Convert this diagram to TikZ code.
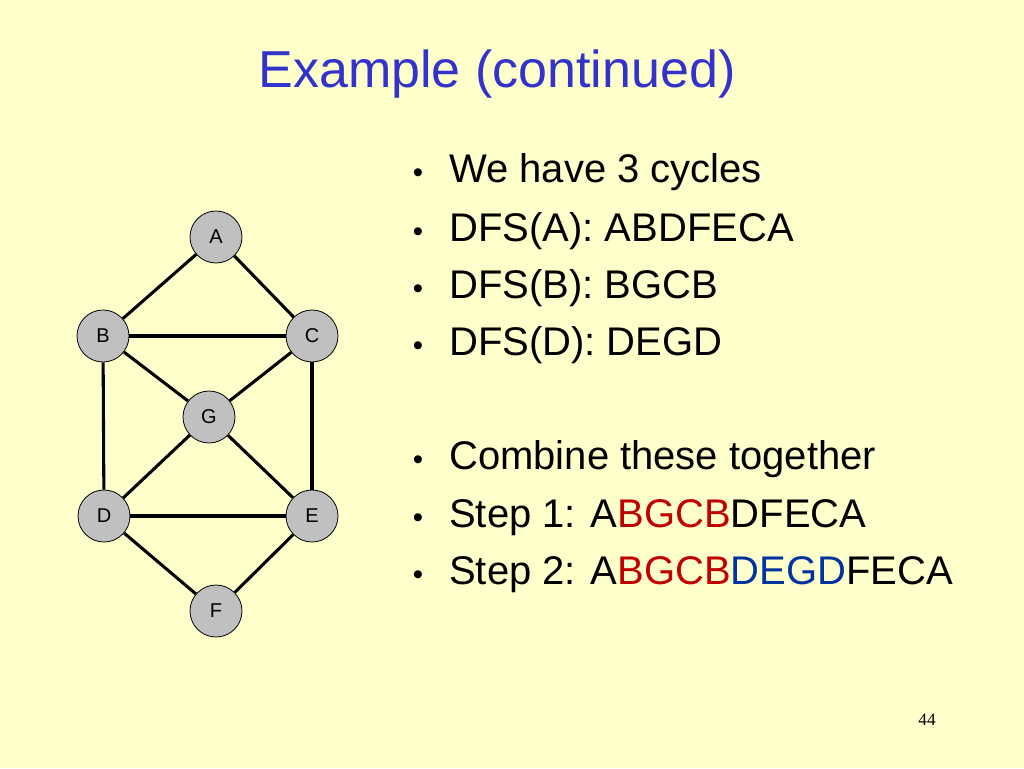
\documentclass[tikz,border=0pt]{standalone}
\usepackage{fontspec}
\setmainfont{Liberation Sans}
\newfontfamily\pagefont{Liberation Serif}
\usepackage{xcolor}
\definecolor{slidebg}{HTML}{FFFFCC}
\definecolor{titleblue}{HTML}{3333CC}
\definecolor{cyclered}{HTML}{C00000}
\definecolor{cycleblue}{HTML}{0033A0}
\definecolor{vertexgray}{HTML}{C0C0C0}

\tikzset{
    vertex/.style={circle, draw=black, line width=0.6pt, fill=vertexgray,
        minimum size=39pt, inner sep=0pt, font=\fontsize{15}{15}\selectfont},
    edge/.style={line width=2.3pt, color=black},
    item/.style={anchor=base west, inner sep=0pt, font=\fontsize{30}{30}\selectfont},
    dot/.style={anchor=base, inner sep=0pt, font=\fontsize{22}{22}\selectfont}
}

\begin{document}
\begin{tikzpicture}[x=0.75pt, y=-0.75pt]
    % background of the slide
    \fill[slidebg] (0, 0) rectangle (1024, 768);
    \useasboundingbox (0, 0) rectangle (1024, 768);
    
    \node[anchor=base, inner sep=0pt, text=titleblue, font=\fontsize{39}{39}\selectfont] (title) at (497, 87) {Example (continued)};
    
    % the graph
    \node[vertex] (A) at (216, 237) {A};
    \node[vertex] (B) at (103, 336) {B};
    \node[vertex] (C) at (312, 336) {C};
    \node[vertex] (G) at (209, 417) {G};
    \node[vertex] (D) at (104, 516) {D};
    \node[vertex] (E) at (312, 516) {E};
    \node[vertex] (F) at (216, 611) {F};
    
    \draw[edge] (A) -- (B);
    \draw[edge] (A) -- (C);
    \draw[edge] (B) -- (C);
    \draw[edge] (B) -- (G);
    \draw[edge] (C) -- (G);
    \draw[edge] (B) -- (D);
    \draw[edge] (C) -- (E);
    \draw[edge] (G) -- (D);
    \draw[edge] (G) -- (E);
    \draw[edge] (D) -- (E);
    \draw[edge] (D) -- (F);
    \draw[edge] (E) -- (F);
    
    % the bullet list
    \foreach \y/\name in {182/one, 241/two, 298/three, 355/four, 469/five, 527/six, 584/seven}
        \node[dot] (dot\name) at (418, \y) {\textbullet};
    
    \node[item] (one) at (449, 182) {We have 3 cycles};
    \node[item] (two) at (449, 241) {DFS(A): ABDFECA};
    \node[item] (three) at (449, 298) {DFS(B): BGCB};
    \node[item] (four) at (449, 355) {DFS(D): DEGD};
    \node[item] (five) at (449, 469) {Combine these together};
    \node[item] (six) at (449, 527) {Step 1: A\textcolor{cyclered}{BGCB}DFECA};
    \node[item] (seven) at (449, 584) {Step 2: A\textcolor{cyclered}{BGCB}\textcolor{cycleblue}{DEGD}FECA};
    
    \node[anchor=base, inner sep=0pt, font=\pagefont\fontsize{13}{13}\selectfont] (page) at (927, 725) {44};
    
\end{tikzpicture}
\end{document}
